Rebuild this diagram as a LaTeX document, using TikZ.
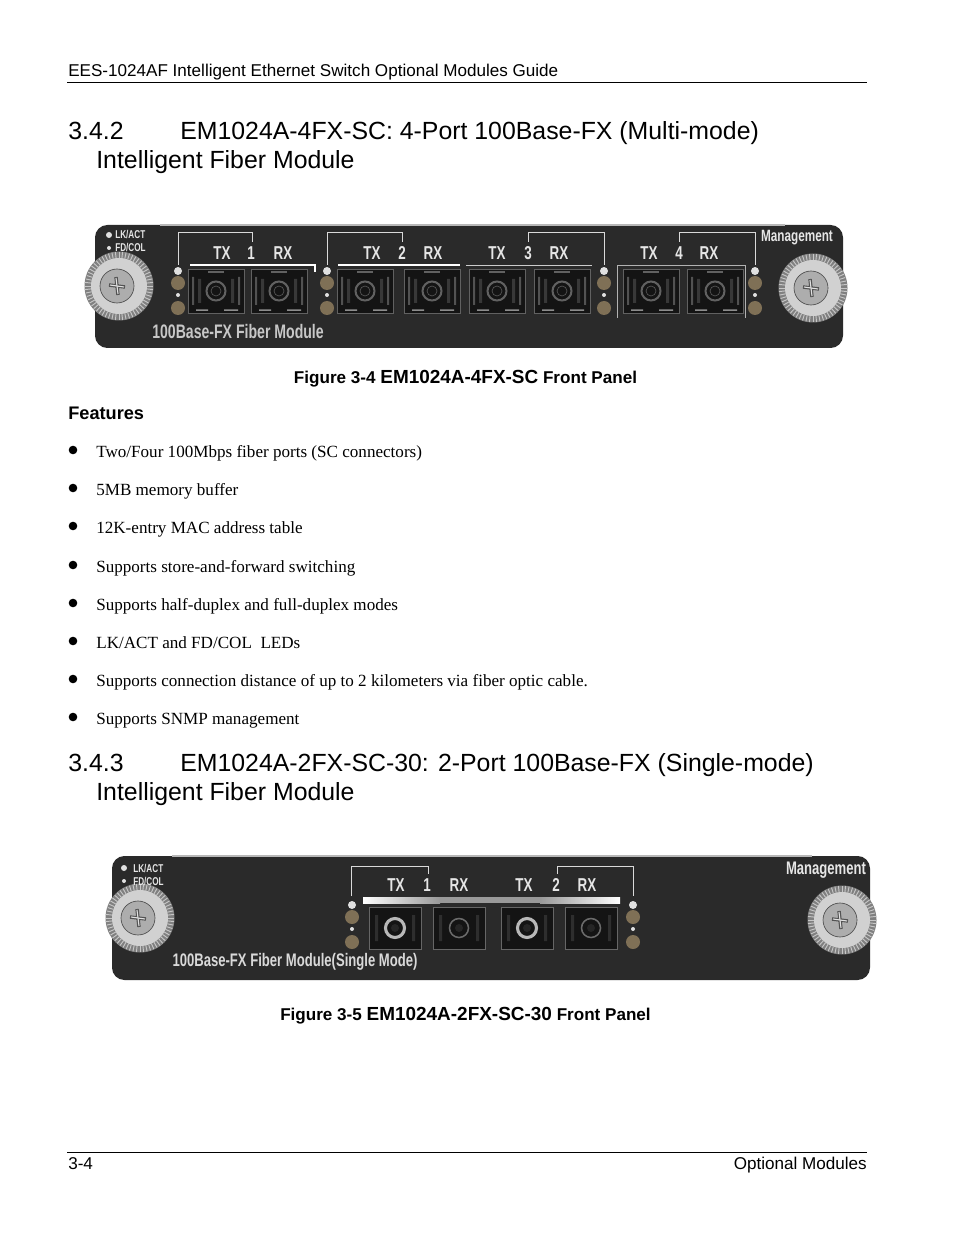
\documentclass[tikz,border=0pt]{standalone}
\usepackage{fontspec}
\setmainfont{Liberation Serif}
\newfontfamily\arialfont{Liberation Sans}
\newfontfamily\panelfont[FakeStretch=0.72]{Liberation Sans Bold}
\usetikzlibrary{calc}
\definecolor{paneldark}{HTML}{2A2A2A}
\definecolor{ledamber}{HTML}{7F7056}
\definecolor{portblack}{HTML}{141414}
\definecolor{panelgrey}{HTML}{E6E6E6}
\tikzset{
  pagetext/.style={inner sep=0pt,anchor=base west,font=\arialfont\fontsize{11}{13}\selectfont},
  headtext/.style={inner sep=0pt,anchor=base west,font=\arialfont\fontsize{16}{19}\selectfont},
  bodytext/.style={inner sep=0pt,anchor=base west,font=\fontsize{11}{13}\selectfont},
  captext/.style={inner sep=0pt,anchor=base,font=\arialfont\bfseries\fontsize{11}{13}\selectfont},
  portlabel/.style={inner sep=0pt,text=panelgrey,font=\panelfont\fontsize{12}{14}\selectfont},
  smalllabel/.style={inner sep=0pt,anchor=west,text=panelgrey,font=\panelfont\fontsize{7.3}{9}\selectfont},
  bracket/.style={draw=white!85!black,line width=0.5pt},
}
% screw, port and led column, all in page pixels
\def\thumbscrew(#1,#2){
  \begin{scope}[shift={(#1,#2)}]
    \fill[black!50] (0,0) circle (34.5);
    \foreach \a in {0,6,...,354}
      \draw[black!22,line width=0.6pt] ({28*cos(\a)},{28*sin(\a)}) -- ({34*cos(\a)},{34*sin(\a)});
    \fill[black!18] (0,0) circle (28);
    \draw[black!72,fill=black!32] (-2,0) circle (17);
    \draw[black!68,line width=2.2pt] (-10,-1) -- (6,1) (-3,-9) -- (-1,9);
    \draw[black!12,line width=0.7pt] (-9,-1) -- (5,1) (-3,-8) -- (-1,8);
  \end{scope}
}
\def\fiberport[#1](#2,#3){
  \begin{scope}[shift={(#2,#3)}]
    \draw[black!62,fill=portblack,line width=0.3pt] (-28,-22) rectangle (28,22);
    \fill[black!68] (-24,-14) rectangle (-22,14) (22,-14) rectangle (24,14);
    \fill[black!78] (-18,-12) rectangle (-15,12) (15,-12) rectangle (18,12);
    \fill[black!62] (-8,-20) rectangle (8,-18);
    \fill[black!45] (-20,18.5) rectangle (-8,20) (8,18.5) rectangle (22,20);
    \draw[#1,line width=1.3pt] (0,0) circle (9.5);
    \draw[black!65,line width=0.4pt] (0,0) circle (5);
  \end{scope}
}
\def\plainport[#1](#2,#3){
  \begin{scope}[shift={(#2,#3)}]
    \draw[black!60,fill=portblack,line width=0.3pt] (-26,-21) rectangle (26,21);
    \fill[black!82] (-20,-13) rectangle (-17,13) (17,-13) rectangle (20,13);
    \draw[#1] (0,0) circle (9.5);
    \fill[black!85] (0,0) circle (4);
  \end{scope}
}
\def\ledcolumn(#1,#2){
  \fill[white!88!black] (#1,#2-12) circle (4);
  \fill[ledamber] (#1,#2) circle (7);
  \fill[white!88!black] (#1,#2+12) circle (2);
  \fill[ledamber] (#1,#2+25) circle (7);
}
\begin{document}
\begin{tikzpicture}[x=0.6415bp,y=-0.6415bp]
  \useasboundingbox (0,0) rectangle (954,1235);
  \fill[white] (0,0) rectangle (954,1235);

  \node[pagetext] (pagehead) at (68,77) {EES-1024AF Intelligent Ethernet Switch Optional Modules Guide};
  \draw[line width=0.5pt] (67,82) -- (867,82);

  \node[headtext] (secnuma) at (68,140) {3.4.2};
  \node[headtext] (sectita) at (180,140) {EM1024A-4FX-SC: 4-Port 100Base-FX (Multi-mode)};
  \node[headtext] (sectitb) at (96,169) {Intelligent Fiber Module};

  % first module
  \fill[paneldark,rounded corners=8] (95,225) rectangle (843,348);
  \draw[black!28,line width=0.8pt] (160,225) -- (785,225);
  \foreach \px in {216,279,365,432,497,562,651,715}
    \fiberport[black!62](\px,291);
  \foreach \lx in {178,327,604,755}
    \ledcolumn(\lx,283);
  \draw[white,line width=0.8pt] (190,265) -- (315,265) -- (315,272);
  \draw[white,line width=0.8pt] (338,265) -- (460,265);
  \draw[white!80!black,line width=0.6pt] (466,265) -- (592,265);
  \draw[white!70!black,line width=0.5pt] (617,318) -- (617,265) -- (745,265) -- (745,318);
  \draw[bracket] (178,265) -- (178,232) -- (252,232) -- (252,242);
  \draw[bracket] (327,265) -- (327,232) -- (402,232) -- (402,242);
  \draw[bracket] (528,242) -- (528,232) -- (604,232) -- (604,265);
  \draw[bracket] (679,242) -- (679,232) -- (755,232) -- (755,265);
  \foreach \tx/\num/\nx/\rx in {222/1/251/283,372/2/402/433,497/3/528/559,649/4/679/709}{
    \node[portlabel] (txa\num) at (\tx,253) {TX};
    \node[portlabel] (numa\num) at (\nx,253) {\num};
    \node[portlabel] (rxa\num) at (\rx,253) {RX};
  }
  \thumbscrew(119,286);
  \thumbscrew(813,288);
  \fill[white!88!black] (109,235) circle (3);
  \fill[white!88!black] (109,248) circle (2);
  \node[smalllabel] (lkacta) at (115,235) {LK/ACT};
  \node[smalllabel] (fdcola) at (115,248) {FD/COL};
  \node[portlabel,font=\panelfont\fontsize{10.5}{12}\selectfont] (mgmta) at (797,238) {Management};
  \node[portlabel,text=black!22,font=\panelfont\fontsize{12.6}{14}\selectfont] (moda) at (238,332) {100Base-FX Fiber Module};

  \node[captext] (capa) at (465.5,383) {Figure 3-4 {\fontsize{12.2}{14}\selectfont EM1024A-4FX-SC} Front Panel};
  \node[pagetext,font=\arialfont\bfseries\fontsize{11.7}{14}\selectfont] (feat) at (68,419) {Features};

  \foreach \yy/\item [count=\n] in {
      457/{Two/Four 100Mbps fiber ports (SC connectors)},
      495/{5MB memory buffer},
      533/{12K-entry MAC address table},
      572/{Supports store-and-forward switching},
      610/{Supports half-duplex and full-duplex modes},
      648/{LK/ACT and FD/COL\ \ LEDs},
      686/{Supports connection distance of up to 2 kilometers via fiber optic cable.},
      724/{Supports SNMP management}}{
    \fill (73,\yy-7) circle (4.3);
    \node[bodytext] (item\n) at (96,\yy) {\item};
  }

  \node[headtext] (secnumb) at (68,771) {3.4.3};
  \node[headtext] (sectitc) at (180,771) {EM1024A-2FX-SC-30: 2-Port 100Base-FX (Single-mode)};
  \node[headtext] (sectitd) at (96,800) {Intelligent Fiber Module};

  % second module
  \fill[paneldark,rounded corners=8] (112,856) rectangle (870,980);
  \draw[black!28,line width=0.8pt] (172,856) -- (812,856);
  \plainport[black!28,line width=2pt](395,928);
  \plainport[black!58,line width=1pt](459,928);
  \plainport[black!28,line width=2pt](527,928);
  \plainport[black!58,line width=1pt](591,928);
  \shade[left color=white,right color=black!40] (363,897) rectangle (440,903);
  \fill[black!40] (440,897) rectangle (540,903);
  \shade[left color=black!40,right color=white] (540,897) rectangle (620,903);
  \ledcolumn(352,917);
  \ledcolumn(633,917);
  \draw[bracket] (351,896) -- (351,866) -- (428,866) -- (428,874);
  \draw[bracket] (557,874) -- (557,866) -- (633,866) -- (633,896);
  \foreach \tx/\num/\nx/\rx in {396/1/427/459,524/2/556/587}{
    \node[portlabel] (txb\num) at (\tx,885) {TX};
    \node[portlabel] (numb\num) at (\nx,885) {\num};
    \node[portlabel] (rxb\num) at (\rx,885) {RX};
  }
  \thumbscrew(140,918);
  \thumbscrew(842,920);
  \fill[white!88!black] (124,868) circle (3);
  \fill[white!88!black] (124,881) circle (2);
  \node[smalllabel] (lkactb) at (133,868) {LK/ACT};
  \node[smalllabel] (fdcolb) at (133,881) {FD/COL};
  \node[portlabel,font=\panelfont\fontsize{11.7}{13}\selectfont] (mgmtb) at (826,870) {Management};
  \node[portlabel,text=black!15,font=\panelfont\fontsize{11.7}{14}\selectfont] (modb) at (295,962) {100Base-FX Fiber Module(Single Mode)};

  \node[captext] (capb) at (465.5,1020) {Figure 3-5 {\fontsize{12.2}{14}\selectfont EM1024A-2FX-SC-30} Front Panel};

  \draw[line width=0.5pt] (67,1152) -- (867,1152);
  \node[pagetext] (footl) at (68,1169) {3-4};
  \node[pagetext,anchor=base east] (footr) at (867,1169) {Optional Modules};
\end{tikzpicture}
\end{document}
